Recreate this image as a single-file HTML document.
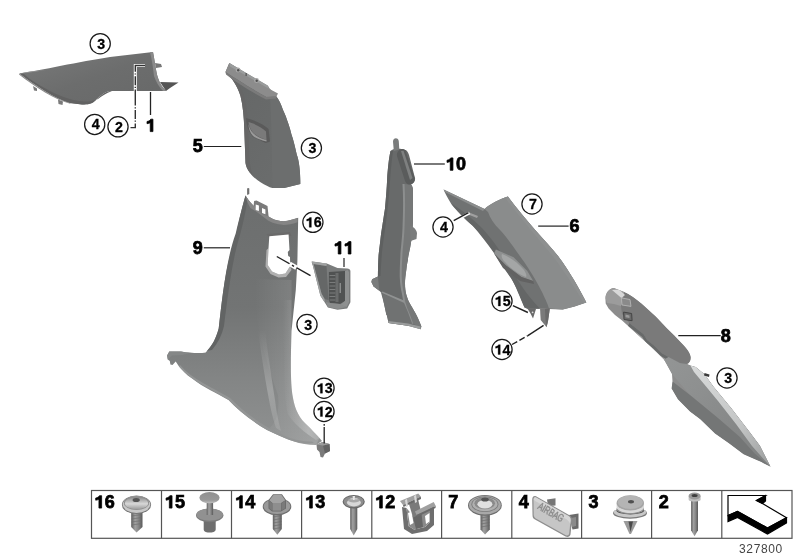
<!DOCTYPE html>
<html><head><meta charset="utf-8"><style>
html,body{margin:0;padding:0;background:#fff;width:800px;height:560px;overflow:hidden}
svg{position:absolute;left:0;top:0;display:block;will-change:transform}
text{font-family:"Liberation Sans",sans-serif;font-weight:bold;stroke:#000;stroke-width:0.75px}
</style></head><body>
<svg width="800" height="560" viewBox="0 0 800 560">
<defs>
<linearGradient id="g1" x1="0" y1="0" x2="1" y2="1">
<stop offset="0" stop-color="#7a7b7b"/><stop offset="0.5" stop-color="#6c6d6d"/><stop offset="1" stop-color="#676868"/></linearGradient>
<linearGradient id="g5" x1="0" y1="0" x2="1" y2="1">
<stop offset="0" stop-color="#646666"/><stop offset="1" stop-color="#6c6e6e"/></linearGradient>
<linearGradient id="g9" x1="0" y1="0" x2="0" y2="1">
<stop offset="0" stop-color="#6c6e6e"/><stop offset="0.45" stop-color="#727474"/><stop offset="0.75" stop-color="#848686"/><stop offset="1" stop-color="#909292"/></linearGradient>
<linearGradient id="g10" x1="0" y1="0" x2="0" y2="1">
<stop offset="0" stop-color="#6c6c6c"/><stop offset="1" stop-color="#7a7a7a"/></linearGradient>
<linearGradient id="g6" x1="0" y1="0" x2="1" y2="1">
<stop offset="0" stop-color="#8e8e8e"/><stop offset="1" stop-color="#8a8a8a"/></linearGradient>
<linearGradient id="g8" x1="0" y1="0" x2="1" y2="1">
<stop offset="0" stop-color="#8a8a8a"/><stop offset="1" stop-color="#7a7a7a"/></linearGradient>
<linearGradient id="g9r" x1="0" y1="0" x2="1" y2="0">
<stop offset="0" stop-color="#fff" stop-opacity="0"/><stop offset="0.6" stop-color="#fff" stop-opacity="0.1"/><stop offset="1" stop-color="#fff" stop-opacity="0.16"/></linearGradient>
<linearGradient id="g9h" x1="0" y1="0" x2="1" y2="0">
<stop offset="0" stop-color="#fff" stop-opacity="0"/><stop offset="0.7" stop-color="#fff" stop-opacity="0.25"/><stop offset="1" stop-color="#fff" stop-opacity="0.1"/></linearGradient>
<linearGradient id="g9c" x1="0" y1="0" x2="0" y2="1">
<stop offset="0" stop-color="#fff" stop-opacity="0"/><stop offset="0.6" stop-color="#fff" stop-opacity="0.22"/><stop offset="1" stop-color="#fff" stop-opacity="0.1"/></linearGradient>
<linearGradient id="g8t" x1="0" y1="0" x2="1" y2="1">
<stop offset="0" stop-color="#939595"/><stop offset="0.3" stop-color="#8e9090"/><stop offset="1" stop-color="#7e8080"/></linearGradient>
<linearGradient id="g8h" x1="0" y1="0" x2="1" y2="1">
<stop offset="0" stop-color="#d8dada"/><stop offset="0.6" stop-color="#c4c6c6"/><stop offset="1" stop-color="#9a9c9c"/></linearGradient>
</defs>

<!-- ===== PARTS ===== -->
<g id="parts" stroke="none">
<!-- part 1 -->
<path d="M19.5,73.5 C40,70.5 80,61.5 110,57 L153,52 C155,62 156,72 158,78 C160,84 163,88 166,91 L110,91 C104,92 100,96 96,100 C92,104 88,104.5 82,104.5 L70,103 C55,99 35,85 19.5,73.5 Z" fill="url(#g1)"/>
<path d="M19.5,73.5 C35,85 55,99 70,103 L82,104.5 C88,104.5 92,104 96,100 C100,96 104,92 110,91 L112,91 C106,93 102,96 98,99 C94,101 90,101.5 84,101.5 C76,101 64,98 54,93 C42,87 30,80 24,74 Z" fill="#626262"/>
<path d="M19.5,73.5 C35,85 55,99 70,103 L71,104 C55,100 35,87 19,74.5 Z" fill="#8a8a8a"/>
<path d="M19.5,73.5 L26,73 C33,72 40,71 46,70 L30,71.5 Z" fill="#959595"/>
<path d="M33,86 L37,88.5 L37,91 L34,90.5 Z M58,99.5 L63,101.5 L62.5,105 L58.5,104 Z" fill="#7a7a7a"/>
<path d="M153,52 C155,62 156,72 158,78 C160,84 163,88 166,91 L163,91 C159,87 156,82 154,76 C153,68 152,60 150,52.3 Z" fill="#8a8a8a"/>
<path d="M160,82 L178.5,82.5 L170,88 L166,91 Z" fill="#555"/>
<path d="M155,63 L161,64 L162,67 L156,68 Z" fill="#777"/>

<!-- part 5 -->
<path d="M225.5,72 C232,78 237,85 240.5,96 C243,106 244,118 244.3,130 L245.5,163 C246,166 247.5,170 249.7,172.4 C253,177 257,180 260.5,182.2 C265,185 269,187 272.3,188.1 L284.1,188.1 L300.3,184 C300.5,172 299,160 296.8,154.7 C295,147 293.5,140 291.4,134.3 C290,128 288.5,124 287.2,120.4 C285.5,115 284,112 282.9,109.7 C281,104 279,100 276.4,96.4 L270,89 L229.3,63 Z" fill="url(#g5)"/>
<path d="M225.5,72 C232,78 237,85 240.5,96 C243,106 244,118 244.3,130 L245.5,163 C246,166 247.5,170 249.7,172.4 L252.5,175 C251,170 249.8,165 249.5,158 L248,128 C248,115 246,102 243,93 C239,84 235,78 230,73 Z" fill="#666"/>
<path d="M270,98 L276.4,96.4 C279,100 281,104 282.9,109.7 C284,112 285.5,115 287.2,120.4 C288.5,124 290,128 291.4,134.3 C293.5,140 295,147 296.8,154.7 C299,160 300.5,172 300.3,184 L284.1,188.1 L272.3,188.1 C272,160 271.5,120 270,98 Z" fill="#6c6e6e"/>
<path d="M229.3,63 L268,85.7 L270,89.3 L278,93.6 L276.4,96.4 L266.4,97 C250,88 238,80 225.5,72 Z" fill="#8c8c8c"/>
<path d="M225.5,72 C238,80 250,88 266.4,97 L276.4,96.4 L276,98.5 L266,99.5 C250,91 237,83 226,74.5 Z" fill="#7a7a7a"/>
<path d="M229.3,63 L268,85.7 L268.5,88.5 L230,66.5 Z" fill="#9a9c9c"/>
<circle cx="238" cy="70" r="2.4" fill="#a8a8a8"/><circle cx="238.2" cy="70.3" r="1.2" fill="#505050"/><circle cx="256.5" cy="80.5" r="2.4" fill="#a8a8a8"/><circle cx="256.7" cy="80.8" r="1.2" fill="#505050"/><rect x="245.5" y="73" width="1.3" height="3" fill="#555"/>
<path d="M246,118 C255,120 264,125 268.6,129 L270,141.4 L265.7,143 C262,141 256,138 252.9,137 C249,132 246.5,126 246,118 Z" fill="#5a5a5a"/>
<path d="M248.5,122 C256,124 262,128 266,131.5 L266.5,140 C260,138 255,135 252.5,132 C250,129 249,125 248.5,122 Z" fill="#7a7a7a"/>
<path d="M248.5,124 C249.5,129 252,133 256,135.5 C259,137.5 263,139 266.5,140 L266.5,141.5 C262,140.5 256,138.5 253,136 C250,133 248.5,128 248.5,124 Z" fill="#9a9a9a"/>

<!-- part 9 -->
<path d="M245.5,195.5 C247,198 249,201 253.6,205.7 L268.6,216.4 C272,218.5 275,220.5 283.6,221.3 C288,221 293,219.5 298.2,217.7 L297.4,261 L295.8,290 L291.5,331 C290.5,365 290.5,385 293,398 C295,410 300,419 307,425 C312,430 316,434 319.5,438 L322,441 L316,445 C300,445 288,440 267,430 C250,420 238,410 228.6,400 C218,393.5 203,387.5 191.8,378.2 C186,374.5 182,370 179,366.4 L175.7,361.5 L172.5,365 L170.4,364.5 L169.8,361 L167.8,359.5 L167.1,355.5 L169.3,351.4 L181,351.5 C190,353 200,353.5 205.7,352.5 C213,345 216,338 218.7,328.6 C222,300 226,260 235.4,240 C238,225 240.7,212 245.5,195.5 Z" fill="url(#g9)"/>
<path d="M245.5,195.5 C243,205 240,215 235.7,233.6 C226,260 222,300 218.7,328.6 C216,338 213,345 207,350.7 L212,350 C218,343 222,335 224,326 C228,295 232,260 240,235 C244,220 246.5,207 247.5,199 Z" fill="#626464"/>
<path d="M255,279 L291.5,280 L291.5,331 C290.5,365 290.5,385 293,398 C295,410 300,419 307,425 C312,430 316,434 319.5,438 L316,445 C300,445 288,440 267,430 C275,425 280,415 278,395 C270,370 258,340 255,300 Z" fill="url(#g9r)"/>
<path d="M291.5,300 C290.5,365 290.5,385 293,398 C295,410 300,419 307,425 C312,430 316,434 319.5,438 L316,440 C304,432 294,424 288,414 C284,400 283,375 283,300 Z" fill="url(#g9h)"/>
<path d="M258,330 C262,360 266,385 270,405 C272,415 274,422 276,428 L281,431 C278,420 276,410 275,400 C272,380 268,355 265,330 Z" fill="url(#g9c)"/>
<path d="M179,366.4 C186,374.5 195,381 205,386.5 C215,392 222,396 228.6,400 C238,410 250,420 267,430 C288,440 300,445 314,443 L312,441.5 C298,442 285,437 268,427.5 C252,418 240,408 230,398 C220,392 210,387 203,383 C193,377 186,372 180,365 Z" fill="#939595"/>
<path d="M245.5,195.5 C247,198 249,201 253.6,205.7 L268.6,216.4 C272,218.5 275,220.5 283.6,221.3 C288,221 293,219.5 297.5,218 L297.5,222.3 C292,224 288,225 283.6,225 C276,224 272,223 268,220.5 C262,216 256,211 250.4,207.9 C248,204 246.5,200 245.5,195.5 Z" fill="#858585"/>
<path d="M253.6,205.7 L254.1,200.9 L256.5,200.5 L267.5,206 L268.6,216.4 L262,214 Z" fill="#7a7a7a"/>
<path d="M255.7,204.6 L258.9,205.5 L258.9,211 L255.7,210 Z M262,207.9 L265.4,209.5 L265.4,214.3 L262,213 Z" fill="#fff"/>
<path d="M247.1,188.6 C247.5,187.8 249,187.8 249.3,188.6 L249.3,194 L247.1,195 Z" fill="#707070"/>
<path d="M267.7,265 L272,271.5 L279,274.5 L285.4,273.5 L290.2,266 L291.5,270 L286,277 L278.5,277.5 L270.5,274 L265.5,266.5 L266.5,250 L268.5,248.2 Z" fill="#b0b0b0"/>
<path d="M266.5,234 L290,232 L291.5,236 L269,237.5 Z" fill="#6a6a6a"/>
<path d="M269.3,236.2 L288.6,234.6 L289.5,250 L287.8,252 L288.2,256 L290,257 L290.2,266 L285.4,273.5 L279,274.5 L272,271.5 L267.7,265 L268.5,248.2 Z" fill="#fff"/>
<path d="M169.3,351.4 L181,351.5 C185,352.3 188,352.8 190,353 L182,355 L172,355.5 L167.8,359.5 L167.1,355.5 Z" fill="#858787"/>
<path d="M316.5,444.5 L322.5,442 L329.5,444 L330,451 L325,453.5 L323,457.5 L320.5,457 L319.5,452 L317,449.5 Z" fill="#7a7a7a"/>
<path d="M323,445.5 L329.5,444 L330,451 L325,453.5 Z" fill="#626262"/>
<path d="M316.5,444.5 L322.5,442 L329.5,444 L323,445.5 Z" fill="#9a9a9a"/>

<!-- part 11 -->
<path d="M311.8,261.4 C318,262 322,263 326.8,263.6 L337.5,267.9 L347.2,268.4 C349,268.6 350.4,269.5 350.4,271 L350.4,302.2 L347.2,308.6 L337.5,309.7 L327.9,307.5 L324.6,302.2 L320.4,295.7 L312.9,265.7 C312,263.5 311.5,262 311.8,261.4 Z" fill="#7a7c7c"/>
<path d="M313.5,264 L326.5,266 L328.5,300 L324.6,299 L321.5,293.5 Z" fill="#656767"/>
<path d="M311.8,261.4 L326.8,263.6 L326.5,266 L313.5,264 L321.5,293.5 L324.6,299 L324.6,302.2 L320.4,295.7 L312.9,265.7 Z" fill="#a0a2a2"/>
<path d="M328.9,272.1 L345,271 L345,301 L340,304 L330,303 L328.9,300 Z" fill="#505252"/>
<g fill="#7a7c7c"><rect x="329.5" y="275" width="6" height="1"/><rect x="329.5" y="278.5" width="6" height="1"/><rect x="329.5" y="282" width="6" height="1"/><rect x="329.5" y="285.5" width="6" height="1"/><rect x="329.5" y="289" width="6" height="1"/><rect x="329.5" y="292.5" width="6" height="1"/><rect x="329.5" y="296" width="6" height="1"/><rect x="329.5" y="299.5" width="6" height="1"/></g>
<path d="M335.5,273 L338.5,273 L338.5,302 L335.5,302 Z" fill="#6a6c6c"/>
<path d="M339.5,283 L341,283 L341,293 L339.5,293 Z" fill="#8a8c8c"/>
<path d="M345,271 L347.5,270 L349,272 L349,302 L346.5,307 L340,305 L345,301 Z" fill="#8e9090"/>
<path d="M326,302 L330,303 L340,304 L346.5,307 L337.5,309 L328,307 Z" fill="#8a8c8c"/>

<!-- part 10 -->
<path d="M390.5,151 C392,149 396,148.5 400,148.8 L404.7,149.7 C407,150 408,152 409,155 L415,178 C415.5,181 414,183.5 411,184.4 C412.5,186 412.9,188 412.9,190 L412.9,223 C412.5,230 412,236 411.4,240 C410.5,246 410,249 409.3,251.4 C408.5,255 408,258 407.9,260 C407,264 406.6,267 406.4,269.3 C405.5,275 405,280 405,283.6 C405,288 405.5,292 406.4,295 C407.5,299 409,302 410.7,305 C413,309 415,312 416.4,315 C418.5,319 420,323 421.4,326.4 L420.7,329.3 L407.9,325.7 L388.6,322.9 C387.5,318 386.8,314 386.4,315 C385.5,310 384.5,306 383.6,302 C382.5,298 381.5,294 380.7,292 L379.3,290.7 L373.6,286.4 L371.4,282 L372.1,279.3 L377.9,276.4 C378,268 378.2,261 378.6,255 C379.2,249 380,244 380.7,237 C382,228 384,215 385,208.6 C386,198 386.8,188 387.1,180 C387.8,168 389,158 390.5,151 Z" fill="#686a6a"/>
<path d="M390.5,151 C389,158 387.8,168 387.1,180 C386.8,188 386,198 385,208.6 C384,215 382,228 380.7,237 C380,244 379.2,249 378.6,255 C378.2,261 378,268 377.9,276.4 L380.5,276 C381,266 381.5,258 382,252 C383,244 384,236 385.5,226 C387,215 388,205 389,195 C390,180 391,165 393,151 Z" fill="#5e6060"/>
<path d="M403.5,184 C404.5,200 404,215 403.5,228 C403,240 401.5,250 401.4,255 C401,262 400.7,270 400.7,276.4 C401,284 402,290 402.9,293.6 C403.5,297 404,300 404.3,302 C405.5,306 406.5,309 407.9,312 C409.5,316 411,320 412.1,323.6 L420.7,327.5 L421.4,326.4 C420,323 418.5,319 416.4,315 C415,312 413,309 410.7,305 C409,302 407.5,299 406.4,295 C405.5,292 405,288 405,283.6 C405,280 405.5,275 406.4,269.3 C406.6,267 407,264 407.9,260 C408,258 408.5,255 409.3,251.4 C410,249 410.5,246 411.4,240 C412,236 412.5,230 412.9,223 L412.9,190 C412.9,188 412.5,186 411,184.4 Z" fill="#767878"/>
<path d="M402.5,184 L404.5,184 C405.5,200 405,215 404.5,228 C404,240 402.5,250 402.4,255 C402,262 401.7,270 401.7,276.4 C402,284 403,290 403.9,293.6 C404.5,297 405,300 405.3,302 C406.5,306 407.5,309 408.9,312 C410.5,316 412,320 413.1,323.6 L411.5,324 C410,320 408.5,316 407,312 C405.5,309 404.5,306 403.3,302 C403,300 402.5,297 401.9,293.6 C401,290 400,284 399.7,276.4 C399.7,270 400,262 400.4,255 C400.5,250 402,240 402.5,228 C403,215 403.5,200 402.5,184 Z" fill="#8c8e8e"/>
<path d="M382.1,293.6 L403.6,302 L407.9,312 L412.1,323.6 L407.9,325.7 L388.6,322.9 C387.5,318 386.8,314 386.4,315 C385.5,310 384.5,306 383.6,302 Z" fill="#707272"/>
<path d="M381,292.5 L382.5,291.5 L404,300.5 L404.3,303 Z" fill="#909292"/>
<path d="M388.3,321 L408,323.5 L420.5,326.5 L420.7,329.3 L407.9,325.7 L388.6,322.9 Z" fill="#9a9c9c"/>
<path d="M399,150.5 C401,148.5 404,148.5 405.5,150.5 L414.5,177.5 C415.5,181 413,184 410,184.5 C407.5,185 406,183 405,181 L397,156 C396.5,153.5 397.5,151.5 399,150.5 Z" fill="#5a5c5c"/>
<path d="M401,151 L403.5,150.8 L412.5,178 L410,180 Z" fill="#7e8080"/>
<path d="M393,141.5 C393,137 398.8,137 398.8,141.5 L399.3,149.5 L393.8,151 Z" fill="#7a7c7c"/>
<path d="M410,226 C413,226 416,229 417,233 L416.5,239 L410.5,241 Z" fill="#7a7c7c"/>
<path d="M372.1,279.3 L377.9,276.4 L379.3,290.7 L373.6,286.4 L371.4,282 Z" fill="#7a7c7c"/>

<!-- part 6 -->
<path d="M443.6,189.5 L484.6,209 C490,204 500,199 507.9,196.6 C525,220 545,240 558,256 C570,272 580,290 586.3,302.5 L574.5,306.4 L562.7,309.4 L549,309 L540,308.7 L528,309.2 L524.5,307.5 C522,301 520,296 518.6,292.9 C516,287 514,283 511,278 C507,272 504,267 500,262 C495,254 490,246 484.6,238.6 C478,230 472,225 466.8,220.7 C460,214 454,208 450.7,202.9 C447,197 445,193 443.6,189.5 Z" fill="#707272"/>
<path d="M450.7,202.9 C460,214 466,219 472,225 C480,234 487,243 494,253 C500,262 505,270 511,278 C516,286 520,298 524.5,307.5 L540,308.7 C530,298 522,288 515,275 C505,258 495,242 482,228 C472,218 462,210 450.7,202.9 Z" fill="#646666"/>
<path d="M443.6,189.5 L484.6,209 L483,211 L445,192 Z" fill="#8c8e8e"/>
<path d="M484.6,209 C490,204 500,199 507.9,196.6 C525,220 545,240 558,256 C570,272 580,290 586.3,302.5 L574.5,306.4 L562.7,309.4 L549,308.4 C547,302 545,298.6 542,292 C538,284 535,279 530,271 C526,264 522,259 519.5,255.4 C512,245 506,236 499.8,229.8 C494,224 490,218 488,212 Z" fill="#8a8c8c"/>
<path d="M507.9,196.6 C525,220 545,240 558,256 C570,272 580,290 586.3,302.5 L584,303 C576,290 566,274 555,259 C542,243 525,224 506,199 Z" fill="#8e9090"/>
<path d="M495.9,249.5 L513.6,257.3 L527.3,271 L533.2,281 L521.4,277 L505.7,265.2 L494,253.4 Z" fill="#8e9090"/>
<path d="M502,254 C510,257 518,263 524,270 C526,273 527,276 526,277 C520,275 510,268 505,262 C502,259 501,256 502,254 Z" fill="#a4a6a6"/>
<path d="M494,253.4 L505.7,265.2 L521.4,277 L533.2,281 L534,284 L520,281 L503,268 Z" fill="#626262"/>
<path d="M527.5,308.5 L536,309 L533,318.5 L530.5,313.5 Z" fill="#6a6a6a"/><circle cx="532.6" cy="312.3" r="0.9" fill="#ddd"/>
<path d="M540,308.3 L549.8,308.5 L548.2,320 L546.6,327.3 L540.7,320 Z" fill="#7a7a7a"/><path d="M545,309 L549.8,308.5 L548.2,320 L546.6,327.3 L545.5,320 Z" fill="#6a6a6a"/>
<path d="M468,212 L478,216 L477,218 L467,214 Z" fill="#a0a0a0"/>

<!-- part 8 -->
<clipPath id="c8"><path d="M605.4,298 C605.6,293 609,288.5 613.9,288 L623,291.5 C630,294.5 636,299 641.4,303.6 L648.6,310 L655.7,316.4 L660,321 L667.1,328.6 L674.3,335.4 L681.4,342.9 C686,347.5 690,352 690.7,357.1 C691,360.5 689.5,363 687,364 L690.4,365.4 L695.7,367 L704.6,374.3 L713.6,386.8 L731.4,408.2 L749.3,431.4 L760,445.7 L770.6,466.8 L761.4,462.1 L755,459.3 L743.6,454.3 L729.3,443.6 L715,433.6 L700,419 L690,411.4 L677.9,399.3 L671.6,388.6 L672.5,381.4 L672,374 L664,359.5 L657.5,353 L650.7,346.5 L643.6,340 L636.4,333.5 L629.3,327 L622.1,320.5 L615,315 L608.6,308.6 L605.7,303.6 Z"/></clipPath>
<path d="M605.4,298 C605.6,293 609,288.5 613.9,288 L623,291.5 C630,294.5 636,299 641.4,303.6 L648.6,310 L655.7,316.4 L660,321 L667.1,328.6 L674.3,335.4 L681.4,342.9 C686,347.5 690,352 690.7,357.1 C691,360.5 689.5,363 687,364 L690.4,365.4 L695.7,367 L704.6,374.3 L713.6,386.8 L731.4,408.2 L749.3,431.4 L760,445.7 L770.6,466.8 L761.4,462.1 L755,459.3 L743.6,454.3 L729.3,443.6 L715,433.6 L700,419 L690,411.4 L677.9,399.3 L671.6,388.6 L672.5,381.4 L672,374 L664,359.5 L657.5,353 L650.7,346.5 L643.6,340 L636.4,333.5 L629.3,327 L622.1,320.5 L615,315 L608.6,308.6 L605.7,303.6 Z" fill="#8c8c8c"/>
<g clip-path="url(#c8)">
<path d="M624.3,291.8 L634.3,297.1 C636,299 638,301 641.4,303.6 L648.6,310 L655.7,316.4 L660,321 L667.1,328.6 L674.3,335.4 L681.4,342.9 C686,347.5 690,352 690.7,357.1 C691,360.5 689.5,363 687,364 L680,362.9 L668.6,357.1 L661.4,352.9 L654.3,345.7 L647.1,340 L643.6,334.3 L636.4,328.6 L629.3,322.9 L622,314 L621,306 Z" fill="#7a7a7a"/>
<path d="M629.3,322.9 L636.4,328.6 L643.6,334.3 L647.1,340 L654.3,345.7 L661.4,352.9 L668.6,357.1 L680,362.9 L687,364 L686,366 L679,365.5 L667,360 L660,355.5 L653,348.5 L646,343 L642,337 L635,331.5 L628,326 Z" fill="#686a6a"/>
<path d="M628,326 L635,331.5 L642,337 L646,343 L653,348.5 L660,355.5 L667,360 L679,365.5 L686,366 L684,368 L677,367.5 L665,362 L658,357.5 L651,350.5 L644,345 L640,339 L633,333.5 L626.5,328 Z" fill="#a0a0a0"/>
<path d="M605.4,298 C605.6,293 609,288.5 613.9,288 L623,291.5 L624.3,291.8 L621,306 L614,304 L607,303 Z" fill="#9c9c9c"/>
<path d="M612,290 L619,289.5 L625,295 L621.4,297.9 Z" fill="#d8d8d8"/>
<path d="M621.4,297.9 L630,299.5 L631,306.4 L622,305 Z" fill="#8a8a8a" stroke="#bbb" stroke-width="0.8"/>
<path d="M623.6,312.1 L631.6,313.5 L632.1,320.7 L624,319.5 Z" fill="#6a6a6a" stroke="#444" stroke-width="1"/>
<path d="M625.5,314.5 L629.5,315.5 L629.5,318 L625.5,317.3 Z" fill="#9a9a9a"/>
<path d="M672,374 L664,359.5 L668.6,357.1 L680,362.9 L687,364 L690.4,365.4 L695.7,367 L704.6,374.3 L713.6,386.8 L731.4,408.2 L749.3,431.4 L760,445.7 L770.6,466.8 L754.3,452.9 L740,437 L718.6,418.6 L690,395 Z" fill="url(#g8t)"/>
<path d="M672.5,381.4 L690,395 L718.6,418.6 L740,437 L754.3,452.9 L770.6,466.8 L761.4,462.1 L755,459.3 L743.6,454.3 L729.3,443.6 L715,433.6 L700,419 L690,411.4 L677.9,399.3 L671.6,388.6 Z" fill="#747676"/>
<path d="M690.4,365.4 L695.7,367 L704.6,374.3 L713.6,386.8 L731.4,408.2 L749.3,431.4 L760,445.7 L770.6,466.8 L752,446 L736,424 L718,401 L704,384 L694,372 Z" fill="url(#g8h)"/>
</g>
<path d="M704.5,373 L709.5,374.5 L709,377 L704,375.5 Z" fill="#3a3a3a"/>
</g>

<!-- ===== LEADERS ===== -->
<g stroke="#222" stroke-width="1.2" fill="none">
<line x1="150.5" y1="92" x2="150.5" y2="115" stroke-width="1.3"/>
<path d="M145,65.5 H135.3 V127.6 H130.5" stroke="#fff" stroke-width="3"/><path d="M145,65.5 H135.3 V127.6 H130.5" stroke="#333" stroke-width="1.4" stroke-dasharray="16,1.6,1.2,1.6,9,1.6,1.2,1.6"/>
<line x1="203.8" y1="146.5" x2="241.3" y2="146.5"/>
<line x1="203.8" y1="247.8" x2="230" y2="247.8"/>
<line x1="414" y1="164" x2="444.8" y2="164"/>
<line x1="344" y1="257.9" x2="344" y2="267"/>
<line x1="276.8" y1="256.5" x2="310.5" y2="275.6" stroke-width="1.4"/>
<g transform="translate(293,265.8) rotate(30.5)"><rect x="-4" y="-2.3" width="8" height="4.6" fill="#fff" stroke="none"/><line x1="-1.2" y1="0" x2="1.2" y2="0" stroke-width="1.4"/></g>
<line x1="538.2" y1="226.1" x2="568.6" y2="226.1"/>
<line x1="460" y1="218" x2="469.5" y2="213" stroke="#fff" stroke-width="3"/><line x1="453.7" y1="220.6" x2="468.5" y2="212.6" stroke-width="1.4"/>
<line x1="512.9" y1="305.7" x2="527.9" y2="312.5" stroke-width="1.4"/>
<path d="M512,344.5 L527.5,335.8" stroke-width="1.4" stroke-dasharray="6,2.5"/><line x1="527.5" y1="335.8" x2="543.6" y2="325.4" stroke-width="1.4"/>
<line x1="678.3" y1="335.7" x2="720.7" y2="335.7"/>
<path d="M324.2,424 V425.8 M324.2,427 V443.5" stroke-width="1.3"/>
</g>

<!-- LABELS START -->
<g stroke="#1a1a1a" stroke-width="1.25" fill="#fff">
<circle cx="100.2" cy="43.7" r="10.1"/>
<circle cx="94.7" cy="124.4" r="10.1"/>
<circle cx="118" cy="126.8" r="10.1"/>
<circle cx="311.4" cy="148" r="10.1"/>
<circle cx="312.9" cy="222.3" r="10.1"/>
<circle cx="307" cy="324.5" r="10.1"/>
<circle cx="324" cy="388.2" r="10.1"/>
<circle cx="324" cy="411.5" r="10.1"/>
<circle cx="532" cy="204" r="10.1"/>
<circle cx="443" cy="227" r="10.1"/>
<circle cx="502" cy="301" r="10.1"/>
<circle cx="502" cy="349.5" r="10.1"/>
<circle cx="727" cy="378" r="10.1"/>
</g>
<g fill="#000">
<text x="97.35" y="48.70" font-size="14.2" style="stroke-width:0.3px">3</text>
<text x="91.68" y="129.40" font-size="14.2" style="stroke-width:0.3px">4</text>
<text x="115.09" y="131.80" font-size="14.2" style="stroke-width:0.3px">2</text>
<text x="308.55" y="153.00" font-size="14.2" style="stroke-width:0.3px">3</text>
<path d="M390,0 L240,0 L240,490 C200,465 130,445 60,440 L60,560 C150,575 235,620 268,690 L390,690 Z" transform="translate(305.83,227.30) scale(0.01420,-0.01420)" fill="#000" stroke="#000" stroke-width="21.1"/>
<text x="313.73" y="227.30" font-size="14.2" style="stroke-width:0.3px">6</text>
<text x="304.15" y="329.50" font-size="14.2" style="stroke-width:0.3px">3</text>
<path d="M390,0 L240,0 L240,490 C200,465 130,445 60,440 L60,560 C150,575 235,620 268,690 L390,690 Z" transform="translate(316.93,393.20) scale(0.01420,-0.01420)" fill="#000" stroke="#000" stroke-width="21.1"/>
<text x="324.83" y="393.20" font-size="14.2" style="stroke-width:0.3px">3</text>
<path d="M390,0 L240,0 L240,490 C200,465 130,445 60,440 L60,560 C150,575 235,620 268,690 L390,690 Z" transform="translate(316.96,416.50) scale(0.01420,-0.01420)" fill="#000" stroke="#000" stroke-width="21.1"/>
<text x="324.86" y="416.50" font-size="14.2" style="stroke-width:0.3px">2</text>
<text x="529.06" y="209.00" font-size="14.2" style="stroke-width:0.3px">7</text>
<text x="439.98" y="232.00" font-size="14.2" style="stroke-width:0.3px">4</text>
<path d="M390,0 L240,0 L240,490 C200,465 130,445 60,440 L60,560 C150,575 235,620 268,690 L390,690 Z" transform="translate(494.88,306.00) scale(0.01420,-0.01420)" fill="#000" stroke="#000" stroke-width="21.1"/>
<text x="502.77" y="306.00" font-size="14.2" style="stroke-width:0.3px">5</text>
<path d="M390,0 L240,0 L240,490 C200,465 130,445 60,440 L60,560 C150,575 235,620 268,690 L390,690 Z" transform="translate(494.71,354.50) scale(0.01420,-0.01420)" fill="#000" stroke="#000" stroke-width="21.1"/>
<text x="502.61" y="354.50" font-size="14.2" style="stroke-width:0.3px">4</text>
<text x="724.15" y="383.00" font-size="14.2" style="stroke-width:0.3px">3</text>
<path d="M390,0 L240,0 L240,490 C200,465 130,445 60,440 L60,560 C150,575 235,620 268,690 L390,690 Z" transform="translate(145.92,131.60) scale(0.01800,-0.01800)" fill="#000" stroke="#000" stroke-width="41.7"/>
<text x="192.75" y="152.40" font-size="18" style="stroke-width:0.75px">5</text>
<text x="192.68" y="253.50" font-size="18" style="stroke-width:0.75px">9</text>
<path d="M390,0 L240,0 L240,490 C200,465 130,445 60,440 L60,560 C150,575 235,620 268,690 L390,690 Z" transform="translate(445.92,170.30) scale(0.01800,-0.01800)" fill="#000" stroke="#000" stroke-width="41.7"/>
<text x="455.93" y="170.30" font-size="18" style="stroke-width:0.75px">0</text>
<path d="M390,0 L240,0 L240,490 C200,465 130,445 60,440 L60,560 C150,575 235,620 268,690 L390,690 Z" transform="translate(333.92,254.00) scale(0.01800,-0.01800)" fill="#000" stroke="#000" stroke-width="41.7"/>
<path d="M390,0 L240,0 L240,490 C200,465 130,445 60,440 L60,560 C150,575 235,620 268,690 L390,690 Z" transform="translate(343.93,254.00) scale(0.01800,-0.01800)" fill="#000" stroke="#000" stroke-width="41.7"/>
<text x="569.54" y="232.00" font-size="18" style="stroke-width:0.75px">6</text>
<text x="720.83" y="342.00" font-size="18" style="stroke-width:0.75px">8</text>
<path d="M390,0 L240,0 L240,490 C200,465 130,445 60,440 L60,560 C150,575 235,620 268,690 L390,690 Z" transform="translate(94.62,508.10) scale(0.01800,-0.01800)" fill="#000" stroke="#000" stroke-width="41.7"/>
<text x="104.63" y="508.10" font-size="18" style="stroke-width:0.75px">6</text>
<path d="M390,0 L240,0 L240,490 C200,465 130,445 60,440 L60,560 C150,575 235,620 268,690 L390,690 Z" transform="translate(165.02,508.10) scale(0.01800,-0.01800)" fill="#000" stroke="#000" stroke-width="41.7"/>
<text x="175.03" y="508.10" font-size="18" style="stroke-width:0.75px">5</text>
<path d="M390,0 L240,0 L240,490 C200,465 130,445 60,440 L60,560 C150,575 235,620 268,690 L390,690 Z" transform="translate(235.32,508.10) scale(0.01800,-0.01800)" fill="#000" stroke="#000" stroke-width="41.7"/>
<text x="245.33" y="508.10" font-size="18" style="stroke-width:0.75px">4</text>
<path d="M390,0 L240,0 L240,490 C200,465 130,445 60,440 L60,560 C150,575 235,620 268,690 L390,690 Z" transform="translate(305.32,508.10) scale(0.01800,-0.01800)" fill="#000" stroke="#000" stroke-width="41.7"/>
<text x="315.33" y="508.10" font-size="18" style="stroke-width:0.75px">3</text>
<path d="M390,0 L240,0 L240,490 C200,465 130,445 60,440 L60,560 C150,575 235,620 268,690 L390,690 Z" transform="translate(375.32,508.10) scale(0.01800,-0.01800)" fill="#000" stroke="#000" stroke-width="41.7"/>
<text x="385.33" y="508.10" font-size="18" style="stroke-width:0.75px">2</text>
<text x="448.23" y="508.10" font-size="18" style="stroke-width:0.75px">7</text>
<text x="518.73" y="508.10" font-size="18" style="stroke-width:0.75px">4</text>
<text x="588.59" y="508.10" font-size="18" style="stroke-width:0.75px">3</text>
<text x="658.78" y="508.10" font-size="18" style="stroke-width:0.75px">2</text>
</g>
<!-- LABELS END -->

<!-- ===== TABLE ===== -->
<g stroke="#555" stroke-width="1.2" fill="none">
<rect x="91.5" y="490.5" width="700.5" height="47.8"/>
<line x1="161.5" y1="490.5" x2="161.5" y2="538.3"/>
<line x1="231.5" y1="490.5" x2="231.5" y2="538.3"/>
<line x1="301.6" y1="490.5" x2="301.6" y2="538.3"/>
<line x1="371.8" y1="490.5" x2="371.8" y2="538.3"/>
<line x1="441.6" y1="490.5" x2="441.6" y2="538.3"/>
<line x1="511.8" y1="490.5" x2="511.8" y2="538.3"/>
<line x1="581.6" y1="490.5" x2="581.6" y2="538.3"/>
<line x1="651.6" y1="490.5" x2="651.6" y2="538.3"/>
<line x1="721.8" y1="490.5" x2="721.8" y2="538.3"/>
</g>
<text x="739" y="552.5" font-size="12" fill="#444" style="font-weight:normal;stroke:none;letter-spacing:0.65px">327800</text>

<!-- arrow icon -->
<g stroke="#000" stroke-width="1.2" stroke-linejoin="miter">
<path d="M728,495.5 L765.5,495.5 L756.5,500.5 L762.5,503.5 L786.5,517.8 L767.5,528 L737.5,511.5 L728,515.5 Z" fill="#fff"/>
<path d="M765.5,495.5 L765.5,501 L762.5,503.5 L756.5,500.5 Z" fill="#000"/>
<path d="M728,515.5 L737.5,511.5 L767.5,528 L786.5,517.8 L786.5,523 L767.5,534 L737.5,517.5 L728,521.5 Z" fill="#000"/>
</g>

<!-- table items -->
<defs>
<linearGradient id="shank" x1="0" y1="0" x2="1" y2="0">
<stop offset="0" stop-color="#5e5e5e"/><stop offset="0.35" stop-color="#a0a0a0"/><stop offset="0.6" stop-color="#8c8c8c"/><stop offset="1" stop-color="#5a5a5a"/></linearGradient>
<linearGradient id="headg" x1="0" y1="0" x2="0" y2="1">
<stop offset="0" stop-color="#8a8a8a"/><stop offset="0.55" stop-color="#d8d8d8"/><stop offset="1" stop-color="#9a9a9a"/></linearGradient>
<linearGradient id="washg" x1="0" y1="0" x2="0" y2="1">
<stop offset="0" stop-color="#8a8a8a"/><stop offset="0.7" stop-color="#b0b0b0"/><stop offset="1" stop-color="#7a7a7a"/></linearGradient>
<linearGradient id="capg" x1="0" y1="0" x2="0" y2="1">
<stop offset="0" stop-color="#909090"/><stop offset="0.7" stop-color="#989898"/><stop offset="1" stop-color="#c0c0c0"/></linearGradient>
</defs>
<g id="items">
<!-- 16 screw -->
<path d="M131.2,512 L142.5,512 L142.5,527 L136.5,532.5 L131.2,527 Z" fill="url(#shank)"/>
<g stroke="#6a6a6a" stroke-width="0.6"><line x1="131.5" y1="516" x2="142" y2="514.5"/><line x1="131.5" y1="519" x2="142" y2="517.5"/><line x1="131.5" y1="522" x2="142" y2="520.5"/><line x1="131.5" y1="525" x2="142" y2="523.5"/></g>
<ellipse cx="136.5" cy="504.8" rx="14.6" ry="9.2" fill="#767676"/>
<ellipse cx="136.5" cy="504.6" rx="13.8" ry="8.4" fill="#c8c8c8"/>
<ellipse cx="136.5" cy="503" rx="12.6" ry="7" fill="#8e8e8e"/>
<ellipse cx="136.5" cy="503.2" rx="11.6" ry="6.2" fill="url(#headg)"/>
<ellipse cx="136.2" cy="500" rx="3.6" ry="2" fill="#555"/>
<!-- 15 clip -->
<path d="M203.7,520 L215.7,520 L215.7,529.5 C215.7,532 212,532.5 209.7,532.5 C207,532.5 203.7,532 203.7,529.5 Z" fill="#6e6e6e"/>
<ellipse cx="209.7" cy="515.3" rx="13.7" ry="6.9" fill="#7a7a7a"/>
<ellipse cx="209.7" cy="514.6" rx="13.2" ry="6.2" fill="#919191"/>
<rect x="206.7" y="502" width="6.4" height="13" fill="url(#shank)"/>
<ellipse cx="209.5" cy="497.7" rx="10.1" ry="5.6" fill="url(#capg)"/>
<!-- 14 screw -->
<path d="M272.8,513 L281.8,513 L281.8,529 L277.3,534.8 L272.8,529 Z" fill="url(#shank)"/>
<g stroke="#666" stroke-width="0.6"><line x1="273" y1="517" x2="281.5" y2="515.5"/><line x1="273" y1="520" x2="281.5" y2="518.5"/><line x1="273" y1="523" x2="281.5" y2="521.5"/><line x1="273" y1="526" x2="281.5" y2="524.5"/><line x1="273.5" y1="529" x2="281" y2="527.5"/></g>
<ellipse cx="277" cy="506.7" rx="14.3" ry="8.6" fill="#6e6e6e"/>
<ellipse cx="277" cy="506.3" rx="13.3" ry="7.6" fill="#9a9a9a"/>
<path d="M268.5,500 L273,494.2 L282,494.2 L286,500 L286,508.5 L281,511.5 L272,511.5 L268.5,508.5 Z" fill="#6a6a6a"/>
<path d="M269.3,500.3 L273.5,495 L281.5,495 L285.2,500.3 L281,503 L272.5,503 Z" fill="#a2a2a2"/>
<path d="M272.5,503 L281,503 L281,510.7 L272.5,510.7 Z" fill="#8e8e8e"/>
<path d="M269.3,500.8 L272,503.3 L272,510.5 L269.3,508.2 Z M281.5,503.3 L285.2,500.8 L285.2,508.2 L281.5,510.5 Z" fill="#7a7a7a"/>
<!-- 13 screw -->
<path d="M350.2,507 L357.3,507 L357.3,529 L353.7,535.4 L350.2,529 Z" fill="url(#shank)"/>
<ellipse cx="353.7" cy="501.8" rx="11.1" ry="6.7" fill="#666"/>
<ellipse cx="353.7" cy="501.6" rx="10" ry="5.7" fill="#8e8e8e"/>
<ellipse cx="353.9" cy="502.6" rx="7" ry="3.8" fill="#d8d8d8"/>
<ellipse cx="353.9" cy="500.2" rx="6" ry="2.2" fill="#a8a8a8"/>
<path d="M352.6,496 L355,496 L354.6,500 L353,500 Z M350.5,498.5 L357.5,498.5 L357.5,499.3 L350.5,499.3 Z" fill="#e6e6e6"/>
<!-- 12 clip -->
<path d="M402,507 L404,529 L412,534 L427,531 L434,525 L434,505 L430,507 L430,522 L425,527 L414,529.5 L408.5,526 L406.5,508 Z" fill="#6e6e6e"/>
<path d="M406.5,508 L408.5,526 L414,529.5 L425,527 L430,522 L430,507 L420,512 L413,516 Z" fill="#8a8a8a"/>
<path d="M408,513 L411.5,511.5 L413.5,523 L410,525 Z M425,516 L429.5,513 L429.5,521.5 L426,524 Z" fill="#fff"/>
<path d="M409,504 L418,499 L421.5,513.5 L413,517.5 Z" fill="#7a7a7a"/>
<path d="M413,517.5 L421.5,513.5 L423,527 L416,529 Z" fill="#666"/>
<path d="M400,501 L418.3,493.4 L420.8,496.5 L403,505 Z" fill="#a0a0a0"/>
<path d="M403,505 L420.8,496.5 L421,499 L403.5,507 Z" fill="#6a6a6a"/>
<path d="M405,500 L407,499 L408,506 L406,507 Z M414,496 L416,495 L417,502 L415,503 Z" fill="#d8d8d8"/>
<path d="M414.9,511.4 L433.7,502 L435.8,505.9 L416.6,514.9 Z" fill="#a0a0a0"/>
<path d="M416.6,514.9 L435.8,505.9 L435.5,508 L417,517 Z" fill="#6a6a6a"/>
<!-- 7 screw -->
<path d="M480.5,514 L489.8,514 L489.8,529.5 L485,534.6 L480.5,529.5 Z" fill="url(#shank)"/>
<g stroke="#666" stroke-width="0.6"><line x1="481" y1="518" x2="489.5" y2="516.5"/><line x1="481" y1="521" x2="489.5" y2="519.5"/><line x1="481" y1="524" x2="489.5" y2="522.5"/><line x1="481" y1="527" x2="489.5" y2="525.5"/></g>
<ellipse cx="484.9" cy="505.4" rx="16.9" ry="10.3" fill="#6e6e6e"/>
<ellipse cx="484.9" cy="505.1" rx="16" ry="9.4" fill="#a8a8a8"/>
<ellipse cx="484.9" cy="504.3" rx="13.5" ry="7.8" fill="#7a7a7a"/>
<ellipse cx="484.9" cy="504.2" rx="12.6" ry="7" fill="#b0b0b0"/>
<ellipse cx="484.7" cy="503.2" rx="10.3" ry="6" fill="#8a8a8a"/>
<ellipse cx="484.9" cy="504.2" rx="7.5" ry="4.2" fill="#e0e0e0"/>
<ellipse cx="485" cy="499.6" rx="3.8" ry="2" fill="#555"/>
<!-- 4 airbag -->
<path d="M547,499.5 L555.5,498.3 L555.5,505.5 L548,506 Z" fill="#777"/>
<path d="M569,515 L578.5,513.5 L578.5,528.5 L572.5,529.5 Z" fill="#6a6a6a"/>
<path d="M571,518 L576,517 L576,526 L572,527 Z" fill="#8a8a8a"/>
<path d="M536,496.2 L569.5,515.3 C571.5,516.5 572,518 572,520.5 L570.5,534.5 C570,536.5 568,537.5 565.5,536.5 L535,519.5 C533,518.5 532.5,517 532.5,515 L532.2,500 C532.2,497 533.5,495.5 536,496.2 Z" fill="#8e8e8e"/>
<path d="M536,497.4 L568.8,516.2 C570.3,517.3 570.6,518.6 570.6,520.6 L569.2,533.5 C568.9,535.2 567.5,535.8 565.8,535.2 L535.8,518.4 C534.3,517.5 533.8,516.3 533.7,514.5 L533.5,500.3 C533.5,498 534.3,497 536,497.4 Z" fill="#c6c6c6"/>
<path d="M536,497.4 L568.8,516.2 C570.3,517.3 570.6,518.6 570.6,520.6 L570.2,524 C569,521 567,519.5 565,518.5 L537,502 C535,501 534,500 533.6,499.5 C533.8,497.8 534.5,497 536,497.4 Z" fill="#d6d6d6"/>
<text x="0" y="0" font-size="9.5" fill="#8a8a8a" transform="translate(537,508.5) rotate(30) scale(0.78,1.15)" style="font-weight:normal;stroke:#8a8a8a;stroke-width:0.35px">AIRBAG</text>
<!-- 3 clip -->
<path d="M623.5,521 L637.5,521 L631,534 L629.5,534 Z" fill="#9a9a9a"/>
<path d="M628.5,521.5 L633,521.5 L630.5,532 Z" fill="#4a4a4a"/>
<ellipse cx="630" cy="513" rx="17" ry="5.8" fill="#7a7a7a"/>
<ellipse cx="630" cy="512.3" rx="16.2" ry="5.1" fill="#c8c8c8"/>
<ellipse cx="630.3" cy="510.6" rx="13.9" ry="3.9" fill="#555"/>
<path d="M616.6,502.9 L644,502.9 L644,508.5 C644,512 637,513.6 630.3,513.6 C623.6,513.6 616.6,512 616.6,508.5 Z" fill="#d8d8d8"/>
<path d="M616.6,508 C618,511 624,513 630.3,513.3 C636.6,513 642.6,511 644,508 L644,509 C644,512 637,513.8 630.3,513.8 C623.6,513.8 616.6,512 616.6,509 Z" fill="#8a8a8a"/>
<ellipse cx="630.3" cy="502.9" rx="13.7" ry="7.7" fill="#a4a4a4"/>
<ellipse cx="630.3" cy="502.3" rx="12.5" ry="6.7" fill="#b4b4b4"/>
<ellipse cx="631" cy="501.8" rx="3" ry="1.7" fill="#505050"/>
<!-- 2 screw -->
<path d="M691.1,500 L698,500 L698,530.3 L694.5,536.3 L691.1,530.3 Z" fill="url(#shank)"/>
<path d="M688.6,496 L700.6,496 L700.6,499.5 C700.6,501 698,501.5 694.6,501.5 C691,501.5 688.6,501 688.6,499.5 Z" fill="#c0c0c0"/>
<ellipse cx="694.6" cy="496" rx="6" ry="3.4" fill="#9a9a9a"/>
<ellipse cx="694.6" cy="495.5" rx="3" ry="1.5" fill="#3e3e3e"/>
</g>
</svg>
</body></html>
